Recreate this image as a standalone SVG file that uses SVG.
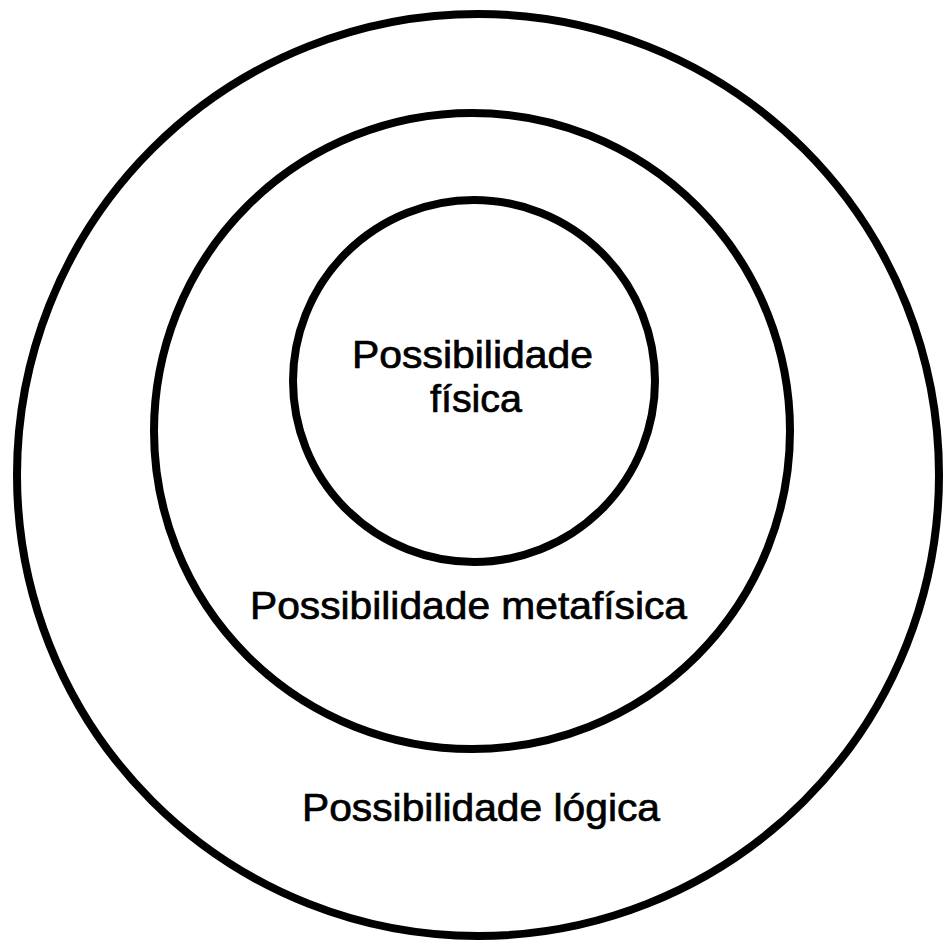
<svg xmlns="http://www.w3.org/2000/svg" width="947" height="947" viewBox="0 0 947 947">
<style>
.ring{fill:none;stroke:#000;stroke-width:8}
.lbl{font-family:"Liberation Sans",Arial,sans-serif;font-size:38px;fill:#000;stroke:#000;stroke-width:0.7}
</style>
<rect width="947" height="947" fill="#fff"/>
<g id="logica">
<circle class="ring" cx="478" cy="475" r="461"/>
<text class="lbl" x="302" y="821" textLength="358" lengthAdjust="spacingAndGlyphs">Possibilidade lógica</text>
</g>
<g id="metafisica">
<circle class="ring" cx="472" cy="431" r="318"/>
<text class="lbl" x="250" y="619" textLength="437" lengthAdjust="spacingAndGlyphs">Possibilidade metafísica</text>
</g>
<g id="fisica">
<circle class="ring" cx="474" cy="381" r="181"/>
<text class="lbl" x="352" y="368" textLength="241" lengthAdjust="spacingAndGlyphs">Possibilidade</text>
<text class="lbl" x="430" y="412" textLength="92" lengthAdjust="spacingAndGlyphs">física</text>
</g>
<g id="connectors"/>
</svg>
